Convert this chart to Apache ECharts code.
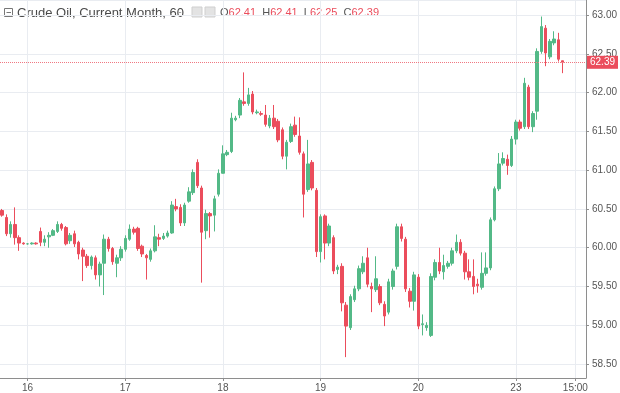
<!DOCTYPE html>
<html><head><meta charset="utf-8">
<script src="https://cdn.jsdelivr.net/npm/echarts@6/dist/echarts.min.js"></script>
<style>html,body{margin:0;padding:0;background:#fff}#c{width:620px;height:393px}</style>
</head><body><div id="c"></div>
<script>
// ---- data (hourly candles) ----
const opens = [60.48,60.39,60.18,60.30,60.13,60.06,60.05,60.05,60.06,
60.21,60.07,60.14,60.16,60.21,60.30,60.26,60.09,60.18,60.07,
59.97,59.89,59.77,59.87,59.65,59.80,60.11,59.99,59.80,59.87,59.98,
60.11,60.24,60.25,60.02,59.90,59.85,59.96,60.13,60.12,60.15,
60.19,60.53,60.52,60.32,60.60,60.71,61.10,60.77,60.22,60.44,
60.42,60.69,60.96,61.20,61.24,61.65,61.71,61.88,61.86,61.98,
61.74,61.73,61.71,61.57,61.67,61.63,61.52,61.18,61.37,61.58,
61.44,61.21,60.75,61.10,60.74,59.95,60.41,60.06,60.13,59.72,
59.76,59.26,58.97,59.33,59.47,59.69,59.87,59.50,59.46,59.50,
59.27,59.17,59.50,59.76,60.27,60.11,59.44,59.31,59.62,59.01,
58.97,58.87,59.62,59.81,59.69,59.76,59.80,59.96,60.07,59.93,
59.69,59.63,59.53,59.49,59.67,59.74,60.36,60.76,61.09,61.14,
61.06,61.40,61.62,61.56,62.07,61.56,61.76,62.53,62.83,62.46,
62.64,62.68,62.41];
const closes = [60.42,60.18,60.30,60.13,60.06,60.05,60.05,60.06,60.05,
60.07,60.11,60.16,60.22,60.30,60.25,60.05,60.16,60.05,59.92,
59.89,59.77,59.88,59.65,59.79,60.11,59.99,59.82,59.87,59.98,60.12,
60.24,60.20,59.99,59.92,59.87,59.96,60.14,60.11,60.15,60.19,
60.55,60.50,60.32,60.55,60.72,60.97,60.80,60.20,60.44,60.41,
60.63,60.96,61.21,61.23,61.67,61.67,61.90,61.86,61.97,61.75,
61.75,61.72,61.59,61.67,61.56,61.39,61.18,61.36,61.56,61.46,
61.23,60.69,61.08,60.77,59.95,60.40,60.06,60.28,59.70,59.75,
59.29,58.99,59.37,59.47,59.73,59.80,59.53,59.47,59.60,59.29,
59.12,59.56,59.70,60.27,60.12,59.47,59.31,59.65,58.99,59.02,
59.00,59.63,59.81,59.70,59.77,59.80,59.96,60.07,59.93,59.69,
59.62,59.50,59.51,59.67,59.74,60.36,60.76,61.08,61.15,61.06,
61.40,61.62,61.54,62.12,61.56,61.73,62.53,62.85,62.51,62.66,
62.69,62.43,62.39];
const lows = [60.40,60.15,60.13,60.04,59.96,60.04,60.04,60.04,60.04,
60.02,60.02,60.00,60.15,60.19,60.22,60.03,60.05,60.01,59.85,
59.57,59.74,59.72,59.59,59.50,59.39,59.95,59.78,59.62,59.83,59.95,
60.09,60.17,59.96,59.88,59.59,59.82,59.94,60.02,60.10,60.13,
60.18,60.47,60.28,60.28,60.58,60.68,60.77,59.55,60.11,60.13,
60.21,60.66,61.18,61.18,61.22,61.63,61.67,61.83,61.83,61.72,
61.72,61.70,61.56,61.54,61.53,61.36,61.14,61.01,61.35,61.43,
61.20,60.39,60.72,60.74,59.88,59.81,59.85,60.02,59.66,59.66,
59.18,58.59,58.94,59.30,59.44,59.66,59.49,59.17,59.43,59.26,
58.99,59.14,59.46,59.72,60.08,59.43,59.23,59.19,58.95,58.87,
58.93,58.85,59.58,59.66,59.59,59.73,59.77,59.93,59.90,59.59,
59.58,59.40,59.42,59.46,59.64,59.71,60.34,60.73,61.06,60.94,
61.04,61.33,61.51,61.53,61.53,61.49,61.65,62.50,62.34,62.43,
62.61,62.40,62.25];
const highs = [60.50,60.43,60.34,60.52,60.16,60.07,60.06,60.07,60.07,
60.26,60.16,60.20,60.24,60.34,60.32,60.28,60.19,60.22,60.09,
60.00,59.92,59.90,59.90,59.82,60.17,60.14,60.01,59.91,60.02,60.16,
60.30,60.27,60.27,60.04,59.92,59.99,60.29,60.18,60.19,60.22,
60.60,60.63,60.56,60.58,60.78,61.01,61.14,60.80,60.49,60.46,
60.67,61.01,61.32,61.26,61.74,61.70,61.93,62.26,62.06,62.02,
61.78,61.76,61.84,61.71,61.84,61.66,61.55,61.39,61.60,61.69,
61.68,61.24,61.39,61.13,60.77,60.43,60.43,60.31,60.16,59.78,
59.80,59.30,59.40,59.51,59.77,59.89,60.00,59.55,59.89,59.53,
59.31,59.60,59.73,60.31,60.31,60.14,59.48,59.69,59.66,59.14,
59.04,59.67,59.85,60.00,59.91,59.83,60.00,60.17,60.11,59.96,
59.85,59.85,59.60,59.94,59.94,60.39,60.79,61.22,61.23,61.20,
61.44,61.65,61.65,62.19,62.10,61.76,62.57,62.98,62.87,62.69,
62.79,62.77,62.41];
const lastPrice = 62.39;
const header = {title: 'Crude Oil, Current Month, 60', O: '62.41', H: '62.41', L: '62.25', C: '62.39'};
// time axis: 6 bars of the previous evening, then 23 hourly bars per session
const dayLabels = ['16','17','18','19','20','23'];
const preBars = 6, barsPerDay = 23, totalSlots = 138;
const timeLabel = '15:00';

const categories = [];
const tickText = {};
for (let i = 0; i < totalSlots; i++) {
  if (i < preBars) { categories.push('15 ' + (18 + i) + ':00'); continue; }
  const d = Math.floor((i - preBars) / barsPerDay);
  const h = (i - preBars) % barsPerDay + 1;
  const hh = (h < 10 ? '0' : '') + h + ':00';
  categories.push(dayLabels[d] + ' ' + hh);
  if (h === 1) tickText[i] = dayLabels[d];
  if (d === dayLabels.length - 1 && hh === timeLabel) tickText[i] = timeLabel;
}
const candleData = opens.map((o, i) => [o, closes[i], lows[i], highs[i]]);
const showTick = (idx) => tickText[idx] !== undefined;

const UP = '#53b987', DOWN = '#eb4d5c', GRID = '#e9ecf1', AXIS = '#8e8e8e', TXT = '#555555';
const FONT = 'Liberation Sans, Arial, sans-serif';

const chart = echarts.init(document.getElementById('c'), null, {renderer: 'canvas'});
chart.setOption({
  animation: false,
  backgroundColor: '#fff',
  grid: {left: -2.4, right: 30, top: 0, bottom: 14},
  xAxis: {
    type: 'category', data: categories, boundaryGap: true,
    axisLine: {show: true, lineStyle: {color: AXIS, width: 1}},
    axisTick: {show: true, alignWithLabel: true, interval: showTick, length: 3, lineStyle: {color: AXIS}},
    axisLabel: {interval: showTick, formatter: (v, i) => tickText[i] || '', color: TXT, fontSize: 10, fontFamily: FONT, margin: 5},
    splitLine: {show: true, alignWithLabel: true, interval: showTick, lineStyle: {color: GRID, width: 1}}
  },
  yAxis: {
    type: 'value', position: 'right', scale: true,
    min: 58.321, max: 63.193, minInterval: 0.5, maxInterval: 0.5, splitNumber: 10,
    axisLine: {show: true, lineStyle: {color: AXIS, width: 1}},
    axisTick: {show: true, length: 3, lineStyle: {color: AXIS}},
    axisLabel: {formatter: v => v.toFixed(2), color: TXT, fontSize: 10, fontFamily: FONT, margin: 6, showMinLabel: false, showMaxLabel: false},
    splitLine: {show: true, lineStyle: {color: GRID, width: 1}}
  },
  series: [{
    type: 'candlestick', data: candleData, barWidth: 3,
    itemStyle: {color: UP, color0: DOWN, borderColor: UP, borderColor0: DOWN, borderWidth: 1},
    markLine: {
      silent: true, symbol: ['none', 'none'],
      lineStyle: {color: '#f07882', type: 'dotted', width: 1},
      label: {show: true, position: 'end', distance: 1, formatter: () => lastPrice.toFixed(2),
        color: '#fff', backgroundColor: '#eb4d5c', padding: [2, 3, 1, 3], fontSize: 10, fontFamily: FONT},
      data: [{yAxis: lastPrice}]
    }
  }],
  graphic: [
    {type: 'rect', shape: {x: 4.5, y: 8.5, width: 8, height: 8}, style: {fill: 'none', stroke: '#777', lineWidth: 1}},
    {type: 'line', shape: {x1: 6.5, y1: 12.5, x2: 11, y2: 12.5}, style: {stroke: '#777', lineWidth: 1}},
    {type: 'text', x: 17, y: 13, style: {text: header.title, fill: '#4a4a4a', fontSize: 13, fontFamily: FONT, verticalAlign: 'middle'}},
    {type: 'text', x: 178, y: 12, style: {text: '-', fill: '#9a9a9a', fontSize: 11, fontFamily: FONT, verticalAlign: 'middle'}},
    {type: 'rect', shape: {x: 192, y: 7, width: 10, height: 10}, style: {fill: '#e3e3e3', stroke: '#cfcfcf'}},
    {type: 'rect', shape: {x: 205, y: 7, width: 10, height: 10}, style: {fill: '#e3e3e3', stroke: '#cfcfcf'}},
    {type: 'text', x: 220, y: 13, style: {
      text: '{l|O}{v|' + header.O + '}  {l|H}{v|' + header.H + '}  {l|L}{v|' + header.L + '}  {l|C}{v|' + header.C + '}',
      fontSize: 11, fontFamily: FONT, verticalAlign: 'middle',
      rich: {l: {fill: '#555', fontSize: 11, fontFamily: FONT}, v: {fill: DOWN, fontSize: 11, fontFamily: FONT}}
    }}
  ]
});
</script></body></html>
